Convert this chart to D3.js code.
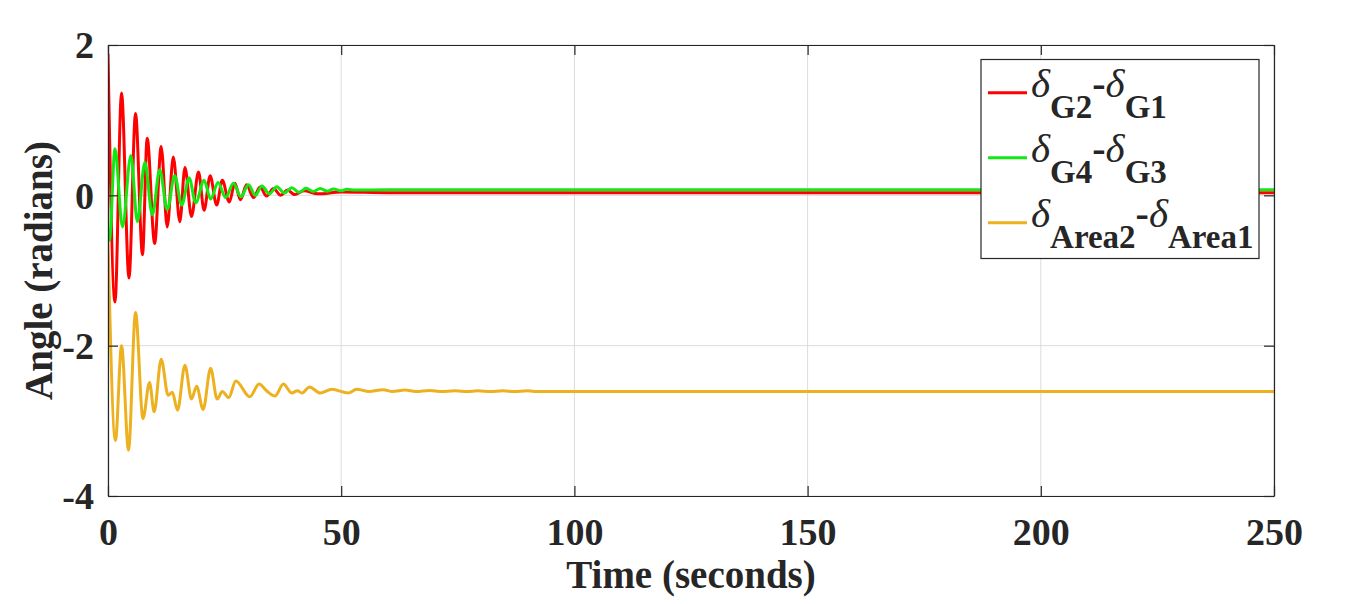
<!DOCTYPE html>
<html><head><meta charset="utf-8">
<script src="https://cdn.jsdelivr.net/npm/d3@7"></script>
<style>
html,body{margin:0;padding:0;background:#fff;}
svg{display:block;}
text{font-family:"Liberation Serif","Times New Roman",serif;fill:#262626;}
</style></head>
<body>
<svg id="chart" width="1366" height="604"></svg>
<script>
// ---- data ----
const xTicks = [0, 50, 100, 150, 200, 250];
const yTicks = [-4, -2, 0, 2];
const xLabel = "Time (seconds)";
const yLabel = "Angle (radians)";

// δG2-δG1
const redT = [0, 1.5, 2.9, 4.5, 5.9, 7.4, 8.4, 10.0, 11.4, 12.7, 14.0, 15.4, 16.5, 17.9, 19.4, 20.6, 21.9, 23.3, 24.5, 26.0, 27.2, 28.4, 29.7, 31.2, 32.6, 34.0, 35.5, 37.0, 38.5, 40.0, 42.0, 45.0, 50.0, 60.0, 250];
const redV = [1.88, -1.42, 1.36, -1.10, 1.09, -0.79, 0.76, -0.64, 0.65, -0.42, 0.51, -0.35, 0.37, -0.28, 0.31, -0.20, 0.26, -0.13, 0.20, -0.09, 0.16, -0.06, 0.14, -0.03, 0.11, -0.01, 0.09, 0.0, 0.07, 0.01, 0.06, 0.02, 0.045, 0.035, 0.035];

// δG4-δG3
const greenT = [0, 0.3, 1.5, 3.1, 4.9, 6.3, 7.9, 9.5, 11.1, 12.7, 14.3, 15.8, 17.4, 18.8, 20.6, 22.0, 23.6, 25.2, 26.9, 28.5, 30.1, 31.6, 33.0, 34.6, 36.2, 37.8, 39.4, 41.0, 42.5, 44.0, 45.5, 47.0, 48.3, 50.0, 51.2, 53.0, 60.0, 250];
const greenV = [-0.55, -0.6, 0.62, -0.42, 0.53, -0.35, 0.44, -0.26, 0.34, -0.19, 0.26, -0.13, 0.23, -0.10, 0.20, -0.05, 0.17, -0.03, 0.16, -0.02, 0.14, 0.0, 0.125, 0.02, 0.115, 0.03, 0.10, 0.04, 0.095, 0.05, 0.09, 0.055, 0.085, 0.06, 0.08, 0.07, 0.075, 0.075];

// δArea2-δArea1
const yelT = [0, 1.6, 2.9, 4.4, 5.9, 7.5, 8.9, 9.9, 11.4, 12.9, 13.8, 14.9, 16.5, 17.9, 19.0, 20.4, 22.0, 23.4, 24.5, 25.9, 27.4, 30.4, 32.4, 34.0, 35.8, 37.6, 39.4, 40.6, 41.6, 43.2, 45.5, 48.0, 51.5, 53.3, 56.0, 59.0, 61.0, 63.7, 66.0, 69.0, 71.5, 74.4, 77.0, 79.3, 82.0, 84.7, 87.0, 90.0, 92.0, 250];
const yelV = [-0.63, -3.26, -2.0, -3.39, -1.56, -2.97, -2.49, -2.88, -2.18, -2.66, -2.62, -2.86, -2.26, -2.71, -2.54, -2.85, -2.30, -2.71, -2.61, -2.69, -2.47, -2.68, -2.51, -2.60, -2.67, -2.51, -2.63, -2.60, -2.63, -2.55, -2.63, -2.58, -2.63, -2.58, -2.61, -2.585, -2.61, -2.59, -2.61, -2.595, -2.61, -2.60, -2.61, -2.60, -2.61, -2.60, -2.61, -2.60, -2.61, -2.61];

const seriesNames = [["G2","G1"],["G4","G3"],["Area2","Area1"]];
const seriesColors = ["#ff0000", "#12e812", "#edb120"];

// ---- layout ----
const W = 1366, H = 604;
const m = {left:108, right:92, top:45, bottom:108};
const svg = d3.select("#chart");
const x = d3.scaleLinear().domain([0,250]).range([m.left, W-m.right]);
const y = d3.scaleLinear().domain([-4,2]).range([H-m.bottom, m.top]);
const x0 = m.left, x1 = W-m.right, y0 = m.top, y1 = H-m.bottom;

// grid
const grid = svg.append("g").attr("stroke","#dcdcdc").attr("stroke-width",1);
xTicks.forEach(t => grid.append("line").attr("x1",x(t)).attr("x2",x(t)).attr("y1",y0).attr("y2",y1));
yTicks.forEach(t => grid.append("line").attr("y1",y(t)).attr("y2",y(t)).attr("x1",x0).attr("x2",x1));

// lines
const clip = svg.append("clipPath").attr("id","clip").append("rect")
  .attr("x",x0).attr("y",y0).attr("width",x1-x0).attr("height",y1-y0);
const line = d3.line().x(d=>x(d[0])).y(d=>y(d[1])).curve(d3.curveMonotoneX);
const data = [
  redT.map((t,i)=>[t,redV[i]]),
  greenT.map((t,i)=>[t,greenV[i]]),
  yelT.map((t,i)=>[t,yelV[i]])
];
const lg = svg.append("g").attr("clip-path","url(#clip)");
data.forEach((d,i)=>{
  lg.append("path").attr("d",line(d)).attr("fill","none")
    .attr("stroke",seriesColors[i]).attr("stroke-width",3).attr("stroke-linejoin","round");
});

// axes via d3
const tickLen = 10;
const xAxis = d3.axisBottom(x).tickValues(xTicks).tickSizeInner(-tickLen).tickSizeOuter(0).tickPadding(22);
const yAxis = d3.axisLeft(y).tickValues(yTicks).tickSizeInner(-tickLen).tickSizeOuter(0).tickPadding(14).tickFormat(d=>d<0?"-"+Math.abs(d):String(d));
const gx = svg.append("g").attr("transform",`translate(0,${y1})`).call(xAxis);
const gy = svg.append("g").attr("transform",`translate(${x0},0)`).call(yAxis);
const gxt = svg.append("g").attr("transform",`translate(0,${y0})`).call(d3.axisTop(x).tickValues(xTicks).tickSizeInner(-tickLen).tickSizeOuter(0).tickFormat(""));
const gyr = svg.append("g").attr("transform",`translate(${x1},0)`).call(d3.axisRight(y).tickValues(yTicks).tickSizeInner(-tickLen).tickSizeOuter(0).tickFormat(""));
[gx,gy,gxt,gyr].forEach(g=>{
  g.select(".domain").attr("stroke","#262626").attr("stroke-width",1.2);
  g.selectAll(".tick line").attr("stroke","#262626").attr("stroke-width",1.2);
  g.selectAll(".tick text").attr("font-family","Liberation Serif, Times New Roman, serif")
    .attr("font-weight","bold").attr("font-size",38).attr("fill","#262626");
});
gx.selectAll(".tick text").attr("dy","0.71em");
gy.selectAll(".tick text").attr("dy","0.34em");

// axis titles
svg.append("text").attr("x",(x0+x1)/2).attr("y",588).attr("text-anchor","middle")
  .attr("font-size",39).attr("font-weight","bold").text(xLabel);
svg.append("text").attr("transform",`translate(52,${(y0+y1)/2}) rotate(-90)`).attr("text-anchor","middle")
  .attr("font-size",39).attr("font-weight","bold").text(yLabel);

// legend
const leg = svg.append("g");
leg.append("rect").attr("x",981).attr("y",59.5).attr("width",278).attr("height",199)
  .attr("fill","#fff").attr("stroke","#262626").attr("stroke-width",1.2);
seriesNames.forEach((nm,i)=>{
  const by = 96.7 + i*65;
  leg.append("line").attr("x1",988).attr("x2",1027).attr("y1",by-4).attr("y2",by-4)
    .attr("stroke",seriesColors[i]).attr("stroke-width",3);
  const t = leg.append("text").attr("x",1031).attr("y",by);
  t.append("tspan").attr("font-style","italic").attr("font-size",41).text("δ");
  t.append("tspan").attr("font-weight","bold").attr("font-size",33).attr("dy",21).text(nm[0]);
  t.append("tspan").attr("font-weight","bold").attr("font-size",40).attr("dy",-21).text("-");
  t.append("tspan").attr("font-style","italic").attr("font-size",41).text("δ");
  t.append("tspan").attr("font-weight","bold").attr("font-size",33).attr("dy",21).text(nm[1]);
});
</script>
</body></html>
